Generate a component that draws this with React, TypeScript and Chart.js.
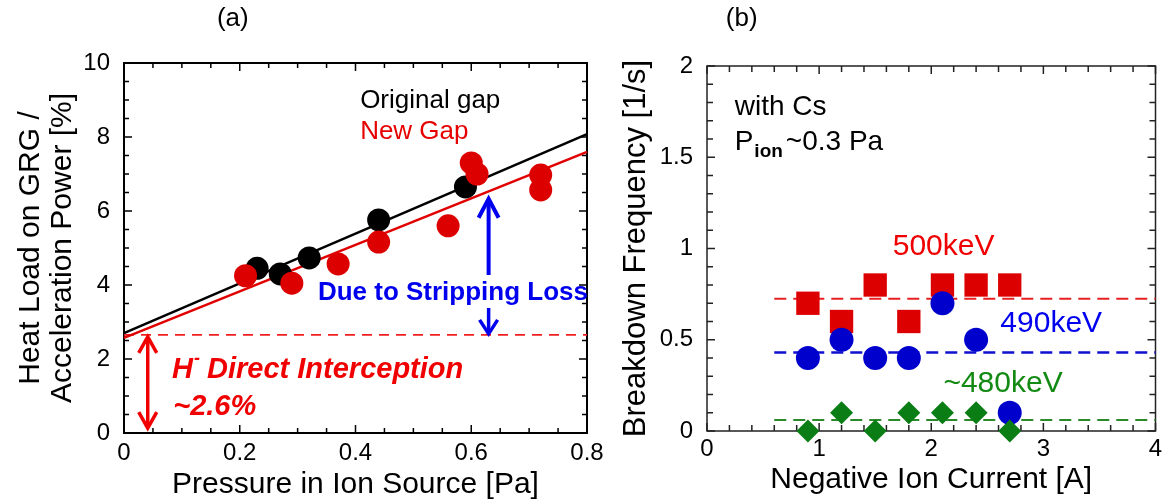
import React, { useEffect, useRef } from 'react';
import { Chart, registerables } from 'chart.js';

Chart.register(...registerables);

const FONT = "'Liberation Sans', Arial, Helvetica, sans-serif";

// ---------- (a) Heat load vs pressure ----------
const origGapPressure = [0.23, 0.27, 0.32, 0.44, 0.59];
const origGapHeat = [4.45, 4.3, 4.73, 5.76, 6.65];
const newGapPressure = [0.21, 0.29, 0.37, 0.44, 0.56, 0.6, 0.61, 0.72, 0.72];
const newGapHeat = [4.25, 4.05, 4.57, 5.16, 5.6, 7.3, 7.0, 6.97, 6.57];
const fitPressure = [0, 0.8];
const origFitHeat = [2.7, 8.08];
const newFitHeat = [2.57, 7.6];
const directLevel = [2.65, 2.65];
const pressureTicks = [0, 0.2, 0.4, 0.6, 0.8];
const heatTicks = [0, 2, 4, 6, 8, 10];

// ---------- (b) Breakdown frequency vs current ----------
const ionCurrent = [0.9, 1.2, 1.5, 1.8, 2.1, 2.4, 2.7];
const freq500 = [0.7, 0.6, 0.8, 0.6, 0.8, 0.8, 0.8];
const freq490 = [0.4, 0.5, 0.4, 0.4, 0.7, 0.5, 0.1];
const freq480 = [0, 0.1, 0, 0.1, 0.1, 0.1, 0];
const levelCurrent = [0.6, 4];
const level500 = [0.725, 0.725];
const level490 = [0.43, 0.43];
const level480 = [0.06, 0.06];
const currentTicks = [0, 1, 2, 3, 4];
const freqTicks = [0, 0.5, 1, 1.5, 2];

const pts = (xs: number[], ys: number[]) => xs.map((x, i) => ({ x, y: ys[i] }));

type FrameCfg = {
  color: string; lineWidth: number; tickWidth: number;
  xMinor: number; xMajor: number; yMinor: number; yMajor: number;
  majorLen: number; minorLen: number;
};

const framePlugin = (cfg: FrameCfg) => ({
  id: 'frameTicks',
  beforeDatasetsDraw(chart: any) {
    const { ctx, chartArea: ca, scales } = chart;
    const xs = scales.x, ys = scales.y;
    ctx.save();
    ctx.strokeStyle = cfg.color;
    ctx.lineWidth = cfg.tickWidth;
    ctx.beginPath();
    const isMajor = (v: number, step: number) => Math.abs(v / step - Math.round(v / step)) < 1e-6;
    const nx = Math.round((xs.max - xs.min) / cfg.xMinor);
    for (let i = 0; i <= nx; i++) {
      const v = xs.min + i * cfg.xMinor;
      const len = isMajor(v, cfg.xMajor) ? cfg.majorLen : cfg.minorLen;
      const p = xs.getPixelForValue(v);
      ctx.moveTo(p, ca.bottom); ctx.lineTo(p, ca.bottom - len);
      ctx.moveTo(p, ca.top); ctx.lineTo(p, ca.top + len);
    }
    const ny = Math.round((ys.max - ys.min) / cfg.yMinor);
    for (let i = 0; i <= ny; i++) {
      const v = ys.min + i * cfg.yMinor;
      const len = isMajor(v, cfg.yMajor) ? cfg.majorLen : cfg.minorLen;
      const p = ys.getPixelForValue(v);
      ctx.moveTo(ca.left, p); ctx.lineTo(ca.left + len, p);
      ctx.moveTo(ca.right, p); ctx.lineTo(ca.right - len, p);
    }
    ctx.stroke();
    ctx.lineWidth = cfg.lineWidth;
    ctx.strokeRect(ca.left, ca.top, ca.right - ca.left, ca.bottom - ca.top);
    ctx.restore();
  },
});

function head(ctx: CanvasRenderingContext2D, x: number, tipY: number, dir: number, len: number, half: number) {
  ctx.beginPath();
  ctx.moveTo(x - half, tipY - dir * len);
  ctx.lineTo(x, tipY);
  ctx.lineTo(x + half, tipY - dir * len);
  ctx.stroke();
}

function shaft(ctx: CanvasRenderingContext2D, x: number, y1: number, y2: number) {
  ctx.beginPath();
  ctx.moveTo(x, y1);
  ctx.lineTo(x, y2);
  ctx.stroke();
}

const annotA = {
  id: 'annotA',
  afterDatasetsDraw(chart: any) {
    const { ctx, scales: { x, y } } = chart;
    const X = (v: number) => x.getPixelForValue(v);
    const Y = (v: number) => y.getPixelForValue(v);
    ctx.save();

    // panel label
    ctx.font = `26px ${FONT}`;
    ctx.fillStyle = '#000';
    ctx.textAlign = 'center';
    ctx.textBaseline = 'middle';
    ctx.fillText('(a)', X(0.188), Y(11.2));
    ctx.textAlign = 'left';
    ctx.textBaseline = 'alphabetic';

    ctx.fillText('Original gap', X(0.408), Y(8.78));
    ctx.fillStyle = '#e60000';
    ctx.fillText('New Gap', X(0.408), Y(7.95));

    // H- direct interception
    ctx.fillStyle = '#f00000';
    let cx = X(0.083);
    const by = Y(1.49);
    ctx.font = `italic bold 29px ${FONT}`;
    ctx.fillText('H', cx, by);
    cx += ctx.measureText('H').width;
    ctx.font = `italic bold 18px ${FONT}`;
    ctx.fillText('-', cx + 1, by - 14);
    cx += ctx.measureText('-').width;
    ctx.font = `italic bold 29px ${FONT}`;
    ctx.fillText(' Direct Interception', cx, by);
    ctx.font = `italic bold 29px ${FONT}`;
    ctx.fillText('~2.6%', X(0.085), Y(0.49));

    // red double arrow
    ctx.strokeStyle = '#f00000';
    ctx.lineWidth = 3.5;
    ctx.lineJoin = 'miter';
    const ax = X(0.041);
    const t1 = Y(2.6), t2 = Y(0.13);
    shaft(ctx, ax, t1 + 2, t2 - 2);
    head(ctx, ax, t1, -1, 16, 9);
    head(ctx, ax, t2, 1, 16, 9);

    // blue stripping loss arrows
    ctx.strokeStyle = '#0000ee';
    const bx = X(0.63);
    ctx.lineWidth = 4;
    shaft(ctx, bx, Y(6.33) + 2, Y(4.27));
    head(ctx, bx, Y(6.33), -1, 19, 10);
    ctx.lineWidth = 3.5;
    shaft(ctx, bx, Y(3.38), Y(2.68) - 2);
    head(ctx, bx, Y(2.68), 1, 14, 9);

    ctx.fillStyle = '#0000ee';
    ctx.font = `bold 26px ${FONT}`;
    ctx.textBaseline = 'middle';
    ctx.fillText('Due to Stripping Loss', X(0.335), Y(3.78));
    ctx.restore();
  },
};

const annotB = {
  id: 'annotB',
  afterDatasetsDraw(chart: any) {
    const { ctx, scales: { x, y } } = chart;
    const X = (v: number) => x.getPixelForValue(v);
    const Y = (v: number) => y.getPixelForValue(v);
    ctx.save();
    ctx.fillStyle = '#000';
    ctx.font = `26px ${FONT}`;
    ctx.textAlign = 'center';
    ctx.textBaseline = 'middle';
    ctx.fillText('(b)', X(0.31), Y(2.26));

    ctx.textAlign = 'left';
    ctx.textBaseline = 'alphabetic';
    ctx.font = `28px ${FONT}`;
    ctx.fillText('with Cs', X(0.247), Y(1.73));
    let cx = X(0.247);
    const by = Y(1.54);
    ctx.fillText('P', cx, by);
    cx += ctx.measureText('P').width + 1;
    ctx.font = `bold 19px ${FONT}`;
    ctx.fillText('ion', cx, by + 7);
    cx += ctx.measureText('ion').width + 3;
    ctx.font = `28px ${FONT}`;
    ctx.fillText('~0.3 Pa', cx, by);

    ctx.textAlign = 'center';
    ctx.textBaseline = 'middle';
    ctx.font = `30px ${FONT}`;
    ctx.fillStyle = '#f00000';
    ctx.fillText('500keV', X(2.11), Y(1.01));
    ctx.fillStyle = '#0000ee';
    ctx.fillText('490keV', X(3.07), Y(0.59));
    ctx.fillStyle = '#138a13';
    ctx.fillText('~480keV', X(2.64), Y(0.26));
    ctx.restore();
  },
};

const fmtNum = (v: number) => {
  const r = Math.round(v * 100) / 100;
  return String(r);
};

function makeScales(o: any) {
  return {
    x: {
      type: 'linear',
      min: o.xMin, max: o.xMax,
      afterBuildTicks: (s: any) => { s.ticks = o.xTicks.map((value: number) => ({ value })); },
      afterFit: (s: any) => { s.height = o.xHeight; },
      grid: { display: false, drawTicks: false },
      border: { display: false },
      ticks: {
        padding: o.xTickPad, color: '#000', autoSkip: false, maxRotation: 0,
        font: { family: FONT, size: 24 }, callback: (v: number) => fmtNum(v),
      },
      title: {
        display: true, text: o.xTitle, color: '#000',
        font: { family: FONT, size: 30, lineHeight: 1.2 },
        padding: { top: 0, bottom: o.xTitlePad },
      },
    },
    y: {
      type: 'linear',
      min: o.yMin, max: o.yMax,
      afterBuildTicks: (s: any) => { s.ticks = o.yTicks.map((value: number) => ({ value })); },
      afterFit: (s: any) => { s.width = o.yWidth; },
      grid: { display: false, drawTicks: false },
      border: { display: false },
      ticks: {
        padding: 14, color: '#000', autoSkip: false,
        font: { family: FONT, size: 24 }, callback: (v: number) => fmtNum(v),
      },
      title: {
        display: true, text: o.yTitle, color: '#000',
        font: { family: FONT, size: o.yTitleSize, lineHeight: o.yTitleLH },
        padding: { top: o.yTitlePad, bottom: 0 },
      },
    },
  };
}

const lineDs = (data: any, color: string, width: number, dash: number[] = []) => ({
  data, showLine: true, borderColor: color, borderWidth: width, borderDash: dash,
  pointRadius: 0, backgroundColor: color, clip: false,
});

const pointDs = (data: any, color: string, style: string, radius: number) => ({
  data, showLine: false, pointStyle: style, pointRadius: radius,
  backgroundColor: color, borderColor: color, pointBorderWidth: 0, clip: false,
});

export default function App() {
  const refA = useRef<HTMLCanvasElement>(null);
  const refB = useRef<HTMLCanvasElement>(null);

  useEffect(() => {
    const chartA = new Chart(refA.current as HTMLCanvasElement, {
      type: 'scatter',
      data: {
        datasets: [
          pointDs(pts(newGapPressure, newGapHeat), '#dd0000', 'circle', 11.5),
          pointDs(pts(origGapPressure, origGapHeat), '#000000', 'circle', 11.5),
          lineDs(pts(fitPressure, newFitHeat), '#e00000', 2.5),
          lineDs(pts(fitPressure, origFitHeat), '#000000', 2.5),
          lineDs(pts(fitPressure, directLevel), '#f02020', 1.8, [10, 7]),
        ] as any,
      },
      options: {
        animation: false,
        responsive: false,
        events: [],
        layout: { padding: { top: 63, right: 33, left: 0, bottom: 0 } },
        plugins: { legend: { display: false }, tooltip: { enabled: false } },
        scales: makeScales({
          xMin: 0, xMax: 0.8, xTicks: pressureTicks, xHeight: 70, xTickPad: 6,
          xTitle: 'Pressure in Ion Source [Pa]', xTitlePad: 0,
          yMin: 0, yMax: 10, yTicks: heatTicks, yWidth: 124,
          yTitle: ['Heat Load on GRG /', 'Acceleration Power [%]'],
          yTitleSize: 30, yTitleLH: 1.05, yTitlePad: 15,
        }) as any,
      },
      plugins: [
        framePlugin({ color: '#000', lineWidth: 2, tickWidth: 1.5, xMinor: 0.05, xMajor: 0.2, yMinor: 0.5, yMajor: 2, majorLen: 8, minorLen: 5 }),
        annotA,
      ],
    });

    const chartB = new Chart(refB.current as HTMLCanvasElement, {
      type: 'scatter',
      data: {
        datasets: [
          pointDs(pts(ionCurrent, freq480), '#0a7d14', 'rectRot', 11.5),
          pointDs(pts(ionCurrent, freq490), '#0000cc', 'circle', 12),
          pointDs(pts(ionCurrent, freq500), '#dd0000', 'rect', 16.5),
          lineDs(pts(levelCurrent, level500), '#e82020', 2, [12, 7]),
          lineDs(pts(levelCurrent, level490), '#1010d0', 2.5, [12, 7]),
          lineDs(pts(levelCurrent, level480), '#2a8a2a', 2, [12, 7]),
        ] as any,
      },
      options: {
        animation: false,
        responsive: false,
        events: [],
        layout: { padding: { top: 66, right: 11, left: 0, bottom: 0 } },
        plugins: { legend: { display: false }, tooltip: { enabled: false } },
        scales: makeScales({
          xMin: 0, xMax: 4, xTicks: currentTicks, xHeight: 72, xTickPad: 4,
          xTitle: 'Negative Ion Current [A]', xTitlePad: 5,
          yMin: 0, yMax: 2, yTicks: freqTicks, yWidth: 107,
          yTitle: 'Breakdown Frequency [1/s]',
          yTitleSize: 31, yTitleLH: 1.2, yTitlePad: 18,
        }) as any,
      },
      plugins: [
        framePlugin({ color: '#222', lineWidth: 1.5, tickWidth: 1.5, xMinor: 0.2, xMajor: 1, yMinor: 0.1, yMajor: 0.5, majorLen: 8, minorLen: 6 }),
        annotB,
      ],
    });

    return () => {
      chartA.destroy();
      chartB.destroy();
    };
  }, []);

  return (
    <div style={{ position: 'absolute', left: 0, top: 0, width: 1172, height: 503, background: '#fff' }}>
      <canvas ref={refA} width={620} height={503} style={{ position: 'absolute', left: 0, top: 0 }} />
      <canvas ref={refB} width={572} height={503} style={{ position: 'absolute', left: 600, top: 0 }} />
    </div>
  );
}
